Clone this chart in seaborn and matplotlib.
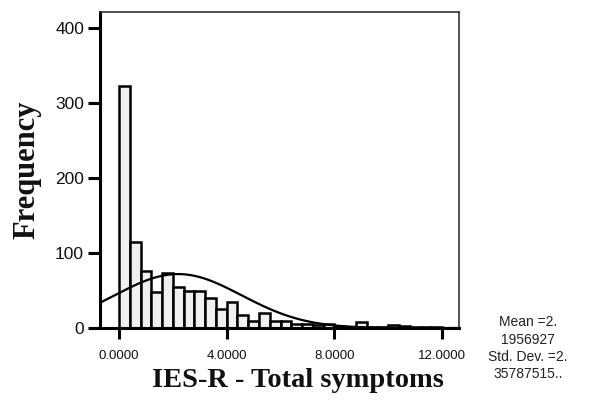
import numpy as np
import pandas as pd
import matplotlib
matplotlib.use("Agg")
import matplotlib.pyplot as plt
import seaborn as sns

# Histogram of IES-R total symptoms (bin width 0.4, from 0 to 12)
bin_start = 0.0
bin_width = 0.4
counts = [322, 114, 76, 48, 73, 54, 49, 49, 40, 26,
          34, 17, 10, 20, 10, 10, 5, 5, 4, 5,
          3, 2, 8, 2, 1, 4, 3, 2, 1, 1]

# Summary statistics printed by SPSS beside the chart
mean_val = 2.1956927
sd_val = 2.35787515
n_obs = 1062

x_ticks = [0, 4, 8, 12]
x_tick_labels = ["0.0000", "4.0000", "8.0000", "12.0000"]
y_ticks = [0, 100, 200, 300, 400]

n_bins = len(counts)
centers = bin_start + bin_width * (np.arange(n_bins) + 0.5)
df = pd.DataFrame({"score": centers, "count": counts})

# Normal curve from the reported mean / std. dev., scaled to counts
curve_x = np.linspace(-0.7, 12.6, 300)
curve_y = n_obs * bin_width / (sd_val * np.sqrt(2 * np.pi)) * np.exp(-0.5 * ((curve_x - mean_val) / sd_val) ** 2)
curve = pd.DataFrame({"x": curve_x, "y": curve_y})

sns.set_style("white")
plt.rcParams['font.family'] = ['Liberation Sans', 'DejaVu Sans']

fig = plt.figure(figsize=(5.89, 4.09), dpi=100)
ax = fig.add_axes([0.1698, 0.198, 0.6095, 0.7727])

sns.histplot(data=df, x="score", weights="count", binwidth=bin_width,
             binrange=(bin_start, bin_start + bin_width * n_bins), ax=ax,
             color="#f0f0f0", edgecolor="black", linewidth=1.8, alpha=1)
sns.lineplot(data=curve, x="x", y="y", ax=ax, color="black", linewidth=1.6)

ax.set_xlim(-0.706, 12.63)
ax.set_ylim(0, 421)
ax.set_xticks(x_ticks)
ax.set_xticklabels(x_tick_labels, fontsize=9.5)
ax.set_yticks(y_ticks)
ax.set_yticklabels([str(v) for v in y_ticks], fontsize=12.5)
ax.tick_params(axis="x", bottom=True, direction="out", length=8, width=2.2, pad=8,
               colors="black", labelcolor="#111111")
ax.tick_params(axis="y", left=True, direction="out", length=8.5, width=2.2, pad=3,
               colors="black", labelcolor="#111111")

for side in ["left", "bottom"]:
    ax.spines[side].set_linewidth(2.2)
    ax.spines[side].set_color("black")
for side in ["top", "right"]:
    ax.spines[side].set_linewidth(1.2)
    ax.spines[side].set_color("#333333")

ax.set_xlabel("IES-R - Total symptoms", fontsize=20.5, fontweight="bold",
              family=["Liberation Serif", "DejaVu Serif"], color="#111111")
ax.set_ylabel("Frequency", fontsize=22, fontweight="bold",
              family=["Liberation Serif", "DejaVu Serif"], color="#111111")
ax.xaxis.label.set_va("center")
ax.xaxis.set_label_coords(0.552, -0.165)
ax.yaxis.label.set_va("center")
ax.yaxis.label.set_ha("center")
ax.yaxis.set_label_coords(-0.203, 0.5)

stats_lines = ["Mean =2.", "1956927", "Std. Dev. =2.", "35787515.."]
for i, line in enumerate(stats_lines):
    fig.text(528 / 589, 1 - (322 + 17.5 * i) / 409, line, ha="center", va="center",
             fontsize=10, color="#222222")

fig.savefig("out.png", dpi=100)
